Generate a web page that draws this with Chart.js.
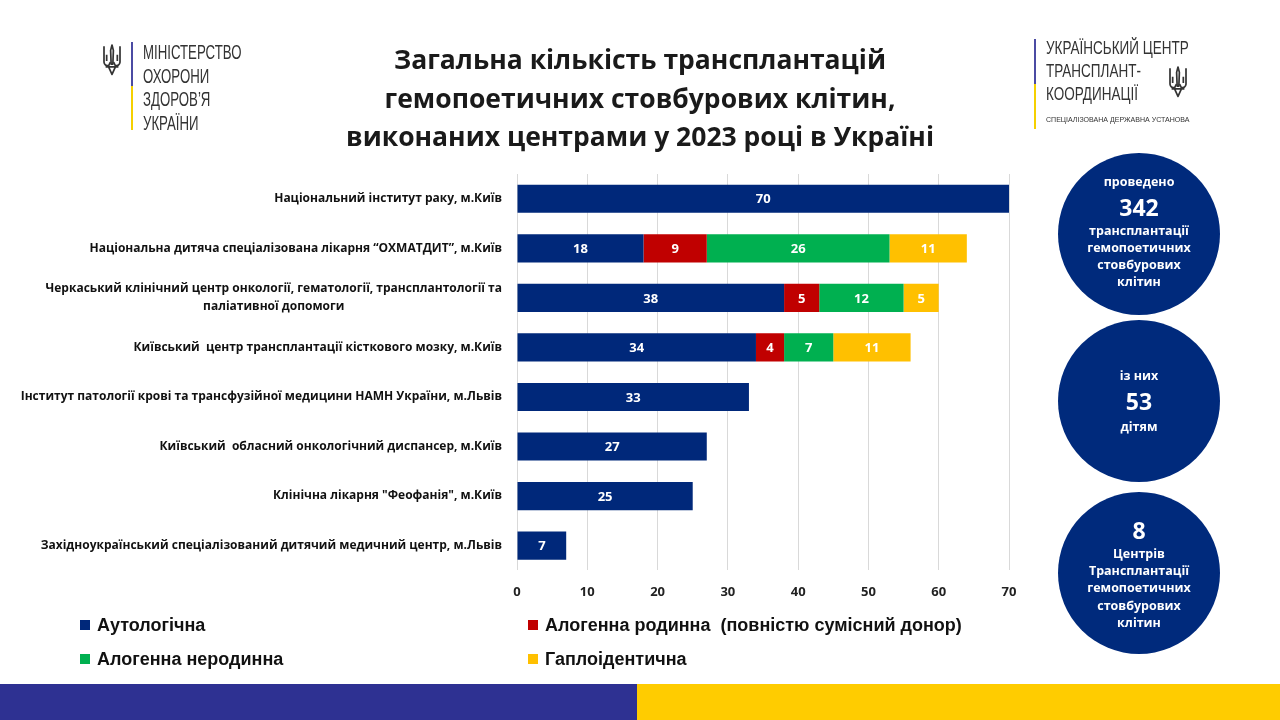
<!DOCTYPE html>
<html>
<head>
<meta charset="utf-8">
<script src="https://cdn.jsdelivr.net/npm/chart.js@4"></script>
<style>
  html, body { margin:0; padding:0; width:1280px; height:720px; overflow:hidden; background:#fff; font-family:"Open Sans", sans-serif; }
  #c { position:absolute; left:0; top:0; }
  .abs { position:absolute; }
  .title { left:240px; width:800px; top:40px; text-align:center; font-weight:700; font-size:26.5px; line-height:38.5px; color:#1a1a1a; }
  .logo-text { font-family:"Liberation Sans", sans-serif; color:#333; transform-origin:0 0; white-space:nowrap; }
  .circle { width:162px; height:162px; border-radius:50%; background:#002A7C; color:#fff; display:flex; flex-direction:column; justify-content:center; align-items:center; text-align:center; font-weight:700; font-size:12.5px; line-height:17.3px; }
  .circle .big { font-size:23px; line-height:30px; }
  .leg { font-family:"Liberation Sans", sans-serif; font-weight:700; font-size:18px; color:#111; display:flex; align-items:center; white-space:nowrap; }
  .leg i { display:inline-block; width:10px; height:10px; margin-right:7px; }
</style>
</head>
<body>
<canvas id="c" width="1280" height="720"></canvas>

<!-- Left logo -->
<svg class="abs" style="left:101px;top:44px" width="22" height="32" viewBox="0 0 20 30">
  <g fill="none" stroke="#333" stroke-width="1.6" stroke-linejoin="round">
    <path d="M10 1 L11.3 6 L10.8 19 L9.2 19 L8.7 6 Z"/>
    <path d="M2.5 2 L2.5 17 Q3 21 7 20 L8.5 17"/>
    <path d="M17.5 2 L17.5 17 Q17 21 13 20 L11.5 17"/>
    <path d="M5 10 L5 16 M15 10 L15 16"/>
    <path d="M4 21.5 L16 21.5 M7 22 L10 28.5 L13 22"/>
  </g>
</svg>
<div class="abs" style="left:131px;top:42px;width:2px;height:44px;background:#4b4ba3"></div>
<div class="abs" style="left:131px;top:86px;width:2px;height:44px;background:#f5d000"></div>
<div class="abs logo-text" style="left:143px;top:40px;font-size:21px;line-height:23.5px;transform:scaleX(0.63);">МІНІСТЕРСТВО<br>ОХОРОНИ<br>ЗДОРОВ’Я<br>УКРАЇНИ</div>

<!-- Right logo -->
<div class="abs" style="left:1034px;top:39px;width:2px;height:45px;background:#4b4ba3"></div>
<div class="abs" style="left:1034px;top:84px;width:2px;height:45px;background:#f5d000"></div>
<div class="abs logo-text" style="left:1046px;top:37px;font-size:18px;line-height:23px;transform:scaleX(0.75);">УКРАЇНСЬКИЙ ЦЕНТР<br>ТРАНСПЛАНТ-<br>КООРДИНАЦІЇ</div>
<div class="abs logo-text" style="left:1046px;top:115px;font-size:8px;transform:scaleX(0.88);">СПЕЦІАЛІЗОВАНА ДЕРЖАВНА УСТАНОВА</div>
<svg class="abs" style="left:1167px;top:66px" width="22" height="32" viewBox="0 0 20 30">
  <g fill="none" stroke="#333" stroke-width="1.6" stroke-linejoin="round">
    <path d="M10 1 L11.3 6 L10.8 19 L9.2 19 L8.7 6 Z"/>
    <path d="M2.5 2 L2.5 17 Q3 21 7 20 L8.5 17"/>
    <path d="M17.5 2 L17.5 17 Q17 21 13 20 L11.5 17"/>
    <path d="M5 10 L5 16 M15 10 L15 16"/>
    <path d="M4 21.5 L16 21.5 M7 22 L10 28.5 L13 22"/>
  </g>
</svg>

<div class="abs title">Загальна кількість трансплантацій<br>гемопоетичних стовбурових клітин,<br>виконаних центрами у 2023 році в Україні</div>

<!-- Info circles -->
<div class="abs circle" style="left:1058px;top:153px;">
  <div style="margin-top:-4px">проведено</div><div class="big" style="margin:1px 0 0">342</div><div>трансплантації<br>гемопоетичних<br>стовбурових<br>клітин</div>
</div>
<div class="abs circle" style="left:1058px;top:320px;">
  <div>із них</div><div class="big" style="line-height:34px">53</div><div>дітям</div>
</div>
<div class="abs circle" style="left:1058px;top:492px;">
  <div class="big">8</div><div>Центрів<br>Трансплантації<br>гемопоетичних<br>стовбурових<br>клітин</div>
</div>

<div id="legend"></div>

<!-- Bottom bar -->
<div class="abs" style="left:0;top:684px;width:637px;height:36px;background:#2E3192"></div>
<div class="abs" style="left:637px;top:684px;width:643px;height:36px;background:#FFCC00"></div>

<script>
const categories = [
  "Національний інститут раку, м.Київ",
  "Національна дитяча спеціалізована лікарня “ОХМАТДИТ”, м.Київ",
  ["Черкаський клінічний центр онкології, гематології, трансплантології та", "паліативної допомоги"],
  "Київський  центр трансплантації кісткового мозку, м.Київ",
  "Інститут патології крові та трансфузійної медицини НАМН України, м.Львів",
  "Київський  обласний онкологічний диспансер, м.Київ",
  "Клінічна лікарня \"Феофанія\", м.Київ",
  "Західноукраїнський спеціалізований дитячий медичний центр, м.Львів"
];
const autologous    = [70, 18, 38, 34, 33, 27, 25, 7];
const alloRelated   = [0, 9, 5, 4, 0, 0, 0, 0];
const alloUnrelated = [0, 26, 12, 7, 0, 0, 0, 0];
const haploidentical = [0, 11, 5, 11, 0, 0, 0, 0];
const seriesNames = ["Аутологічна", "Алогенна родинна  (повністю сумісний донор)", "Алогенна неродинна", "Гаплоідентична"];
const seriesColors = ["#00287A", "#C00000", "#00B050", "#FFC000"];
const xTicks = [0, 10, 20, 30, 40, 50, 60, 70];

const seriesData = [autologous, alloRelated, alloUnrelated, haploidentical];

// HTML legend built from the series arrays (2x2 grid)
const legendPos = [[80, 625], [528, 625], [80, 659], [528, 659]];
const legendEl = document.getElementById('legend');
seriesNames.forEach((n, i) => {
  const d = document.createElement('div');
  d.className = 'abs leg';
  d.style.left = legendPos[i][0] + 'px';
  d.style.top = (legendPos[i][1] - 12) + 'px';
  d.style.height = '24px';
  d.innerHTML = '<i style="background:' + seriesColors[i] + '"></i>' + n.replace(/  /g, ' &nbsp;');
  legendEl.appendChild(d);
});

const valueLabels = {
  id: 'valueLabels',
  afterDatasetsDraw(chart) {
    const ctx = chart.ctx;
    ctx.save();
    ctx.font = '700 13px "Open Sans"';
    ctx.fillStyle = '#fff';
    ctx.textAlign = 'center';
    ctx.textBaseline = 'middle';
    chart.data.datasets.forEach((ds, di) => {
      const meta = chart.getDatasetMeta(di);
      meta.data.forEach((el, i) => {
        const v = ds.data[i];
        if (!v) return;
        const p = el.getCenterPoint();
        ctx.fillText(String(v), p.x, p.y + 1);
      });
    });
    ctx.restore();
  }
};

const categoryLabels = {
  id: 'categoryLabels',
  afterDraw(chart) {
    const ctx = chart.ctx;
    const y = chart.scales.y;
    const right = chart.chartArea.left - 15;
    ctx.save();
    ctx.font = '700 12px "Open Sans"';
    ctx.fillStyle = '#111';
    ctx.textAlign = 'center';
    ctx.textBaseline = 'middle';
    const lh = 18;
    chart.data.labels.forEach((lab, i) => {
      const lines = Array.isArray(lab) ? lab : [lab];
      const w = Math.max(...lines.map(l => ctx.measureText(l).width));
      const cx = right - w / 2;
      const cy = y.getPixelForValue(i);
      lines.forEach((l, k) => {
        ctx.fillText(l, cx, cy + (k - (lines.length - 1) / 2) * lh);
      });
    });
    ctx.restore();
  }
};

new Chart(document.getElementById('c'), {
  type: 'bar',
  data: {
    labels: categories,
    datasets: seriesNames.map((n, i) => ({
      label: n,
      data: seriesData[i],
      backgroundColor: seriesColors[i],
      borderWidth: 0,
      categoryPercentage: 0.8,
      barPercentage: 0.71
    }))
  },
  options: {
    indexAxis: 'y',
    responsive: false,
    animation: false,
    layout: { padding: { left: 517, right: 271, top: 174, bottom: 106 } },
    plugins: { legend: { display: false }, title: { display: false }, tooltip: { enabled: false } },
    scales: {
      x: {
        stacked: true,
        min: xTicks[0],
        max: xTicks[xTicks.length - 1],
        afterBuildTicks(scale) { scale.ticks = xTicks.map(v => ({ value: v })); },
        grid: { color: '#D9D9D9', lineWidth: 1, drawTicks: false },
        border: { display: false },
        ticks: { color: '#222', font: { family: 'Open Sans', size: 13, weight: '700' }, padding: 14 }
      },
      y: {
        stacked: true,
        display: false
      }
    }
  },
  plugins: [valueLabels, categoryLabels]
});
</script>
</body>
</html>
